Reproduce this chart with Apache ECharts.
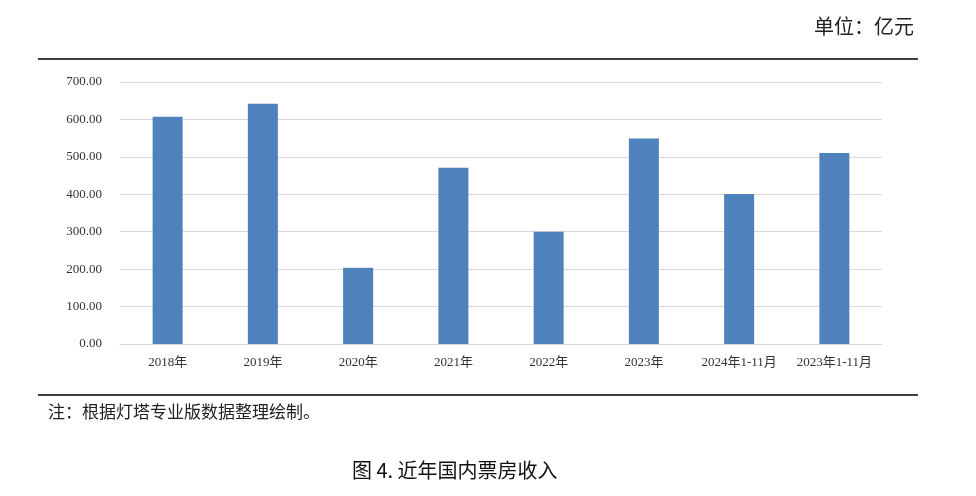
<!DOCTYPE html>
<html><head><meta charset="utf-8">
<script src="https://cdn.jsdelivr.net/npm/echarts@6/dist/echarts.min.js"></script>
<style>html,body{margin:0;padding:0;background:#fff}#c{width:976px;height:496px}</style>
</head><body><div id="c"></div>
<script>
const categories = ['2018年','2019年','2020年','2021年','2022年','2023年','2024年1-11月','2023年1-11月'];
const values = [607, 642, 204, 471, 300, 549, 401, 510];
const chart = echarts.init(document.getElementById('c'));
chart.setOption({
  animation:false,
  grid:{left:120,right:94,top:82,bottom:152},
  xAxis:{type:'category',data:categories,
    axisLine:{lineStyle:{color:'#d9d9d9'}},axisTick:{show:false},
    axisLabel:{color:'#333',fontFamily:'Liberation Serif, Noto Sans CJK SC',fontSize:13,interval:0,margin:12}},
  yAxis:{type:'value',min:0,max:700,interval:100,
    axisLabel:{color:'#333',fontFamily:'Liberation Serif',fontSize:13,formatter:v=>v.toFixed(2),margin:18},
    splitLine:{lineStyle:{color:'#d9d9d9'}},axisLine:{show:false},axisTick:{show:false}},
  series:[{type:'bar',data:values,barWidth:30,itemStyle:{color:'#4f81bd'}}],
  graphic:[
    {type:'line',shape:{x1:38,y1:59,x2:918,y2:59},style:{stroke:'#000',lineWidth:1.5}},
    {type:'line',shape:{x1:38,y1:395,x2:918,y2:395},style:{stroke:'#000',lineWidth:1.5}},
    {type:'text',right:62,top:16,style:{text:'单位：亿元',font:'20px "Noto Sans CJK SC"',fill:'#222'}},
    {type:'text',left:48,top:403,style:{text:'注：根据灯塔专业版数据整理绘制。',font:'17px "Noto Sans CJK SC"',fill:'#222'}},
    {type:'text',left:352,top:460,style:{text:'图 4. 近年国内票房收入',font:'20px "Noto Sans CJK SC"',fill:'#111'}}
  ]
});
</script></body></html>
